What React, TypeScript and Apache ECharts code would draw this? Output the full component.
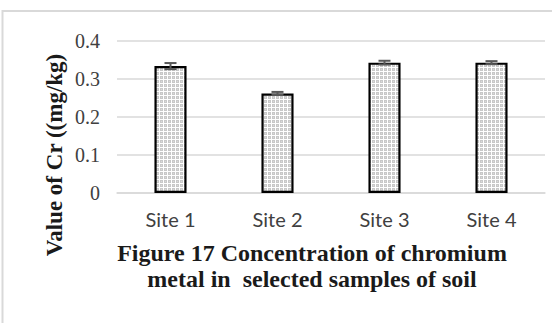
import React, { useEffect, useRef } from "react";
import * as echarts from "echarts";

const categories = ["Site 1", "Site 2", "Site 3", "Site 4"];
const values = [0.334, 0.262, 0.343, 0.343];
const errors = [0.008, 0.004, 0.005, 0.004];
const yTicks = [0, 0.1, 0.2, 0.3, 0.4];
const yAxisTitle = "Value of Cr ((mg/kg)";
const captionLines = ["Figure 17 Concentration of chromium", "metal in  selected samples of soil"];

function makePattern(): HTMLCanvasElement {
  const c = document.createElement("canvas");
  c.width = 4;
  c.height = 4;
  const ctx = c.getContext("2d")!;
  ctx.fillStyle = "#ffffff";
  ctx.fillRect(0, 0, 4, 4);
  ctx.fillStyle = "#c8c8c8";
  ctx.fillRect(0, 0, 3, 3);
  ctx.fillStyle = "#dadada";
  ctx.fillRect(1, 1, 1, 1);
  return c;
}

export default function App() {
  const ref = useRef<HTMLDivElement>(null);
  useEffect(() => {
    if (!ref.current) return;
    const chart = echarts.init(ref.current, null, { renderer: "svg" });
    const pattern = makePattern();
    const errData = values.map((v, i) => [i, v - errors[i], v + errors[i]]);
    const captionStyle = {
      textAlign: "center",
      textVerticalAlign: "middle",
      fontFamily: "Liberation Serif",
      fontWeight: "bold",
      fontSize: 24,
      fill: "#1a1a1a",
    };
    chart.setOption({
      animation: false,
      backgroundColor: "#ffffff",
      grid: { left: 117, right: 7, top: 41, bottom: 130, outerBoundsMode: "none" },
      xAxis: {
        type: "category",
        data: categories,
        axisLine: { show: true, lineStyle: { color: "#d9d9d9", width: 1.5 } },
        axisTick: { show: false },
        axisLabel: {
          color: "#404040",
          fontFamily: "Lato",
          fontSize: 20,
          margin: 16,
        },
      },
      yAxis: {
        type: "value",
        min: yTicks[0],
        max: yTicks[yTicks.length - 1],
        interval: 0.1,
        axisLine: { show: false },
        axisTick: { show: false },
        splitLine: { lineStyle: { color: "#d9d9d9", width: 1.5 } },
        axisLabel: {
          color: "#404040",
          fontFamily: "Liberation Serif",
          fontSize: 20,
          margin: 17,
          formatter: (v: number) => (v === 0 ? "0" : v.toFixed(1)),
        },
      },
      series: [
        {
          type: "bar",
          data: values,
          barWidth: "30%",
          itemStyle: {
            color: { image: pattern, repeat: "repeat" },
            borderColor: "#000000",
            borderWidth: 2.2,
          },
          z: 2,
        },
        {
          type: "custom",
          data: errData,
          encode: { x: 0, y: [1, 2] },
          z: 5,
          renderItem: (params: any, api: any) => {
            const i = api.value(0);
            const lo = api.coord([i, api.value(1)]);
            const hi = api.coord([i, api.value(2)]);
            const hw = 6;
            const style = { stroke: "#595959", lineWidth: 2 };
            return {
              type: "group",
              children: [
                { type: "line", shape: { x1: lo[0], y1: lo[1], x2: hi[0], y2: hi[1] }, style },
                { type: "line", shape: { x1: lo[0] - hw, y1: lo[1], x2: lo[0] + hw, y2: lo[1] }, style },
                { type: "line", shape: { x1: hi[0] - hw, y1: hi[1], x2: hi[0] + hw, y2: hi[1] }, style },
              ],
            };
          },
        },
      ],
      graphic: [
        {
          type: "rect",
          shape: { x: 2.5, y: 11, width: 600, height: 400 },
          style: { fill: "none", stroke: "#d9d9d9", lineWidth: 2 },
          silent: true,
          z: -1,
        },
        {
          type: "text",
          x: 54,
          y: 155,
          rotation: Math.PI / 2,
          style: { ...captionStyle, text: yAxisTitle, fontSize: 23 },
        },
        {
          type: "text",
          x: 312,
          y: 253,
          style: { ...captionStyle, text: captionLines[0] },
        },
        {
          type: "text",
          x: 312,
          y: 279,
          style: { ...captionStyle, text: captionLines[1] },
        },
      ],
    });
    return () => chart.dispose();
  }, []);
  return (
    <div
      ref={ref}
      style={{ position: "fixed", left: 0, top: 0, width: 552, height: 323 }}
    />
  );
}
